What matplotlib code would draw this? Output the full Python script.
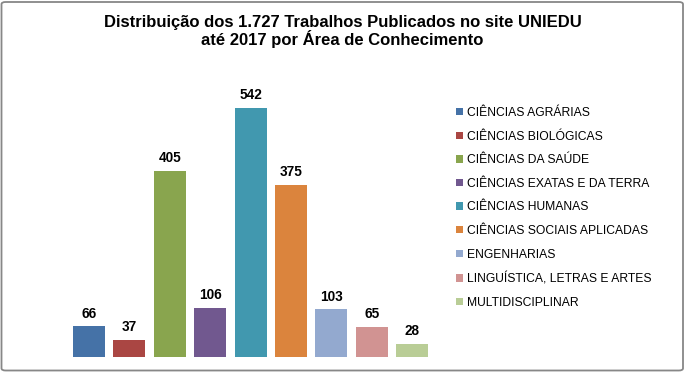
import matplotlib
matplotlib.use("Agg")
import matplotlib.pyplot as plt
from matplotlib.patches import Patch, FancyBboxPatch

categories = ["CIÊNCIAS AGRÁRIAS", "CIÊNCIAS BIOLÓGICAS", "CIÊNCIAS DA SAÚDE",
              "CIÊNCIAS EXATAS E DA TERRA", "CIÊNCIAS HUMANAS",
              "CIÊNCIAS SOCIAIS APLICADAS", "ENGENHARIAS",
              "LINGUÍSTICA, LETRAS E ARTES", "MULTIDISCIPLINAR"]
values = [66, 37, 405, 106, 542, 375, 103, 65, 28]
colors = ["#4572A7", "#AA4643", "#89A54E", "#71588F", "#4198AF",
          "#DB843D", "#93A9CF", "#D19392", "#B9CD96"]
title_lines = ["Distribuição dos 1.727 Trabalhos Publicados no site UNIEDU",
               "até 2017 por Área de Conhecimento"]

plt.rcParams["font.family"] = ["Liberation Sans", "DejaVu Sans"]

W, H = 685, 372
fig = plt.figure(figsize=(W / 100, H / 100), dpi=100)
fig.patch.set_facecolor("white")

# outer border
border = FancyBboxPatch((1.5 / W, 1.5 / H), (W - 3.5) / W, (H - 3.5) / H,
                        boxstyle="round,pad=0,rounding_size=0.006",
                        transform=fig.transFigure, fill=False,
                        edgecolor="#878787", linewidth=1.3)
fig.patches.append(border)

left_px, right_px = 68.8, 432.4
base_px, top_px = 356.7, 81.3
ax = fig.add_axes([left_px / W, (H - base_px) / H, (right_px - left_px) / W,
                   (base_px - top_px) / H])
x = list(range(len(values)))
ax.bar(x, values, width=0.79, color=colors)
ax.set_xlim(-0.5, len(values) - 0.5)
ax.set_ylim(0, 600)
ax.axis("off")
for xi, v in zip(x, values):
    ax.annotate(str(v), (xi, v), xytext=(0, 6.3), textcoords="offset points",
                ha="center", va="baseline", fontsize=9.8, fontweight="bold",
                color="black")

fig.text(342.5 / W, 1 - 27.3 / H, title_lines[0], ha="center", va="baseline",
         fontsize=12, fontweight="bold")
fig.text(342.5 / W, 1 - 44.5 / H, title_lines[1], ha="center", va="baseline",
         fontsize=12, fontweight="bold")

handles = [Patch(facecolor=c, edgecolor="none") for c in colors]
fig.legend(handles, categories, loc="upper left",
           bbox_to_anchor=(456 / W, 1 - 107 / H), frameon=False,
           fontsize=8.7, handlelength=0.58, handleheight=0.58,
           handletextpad=0.3, labelspacing=0.96, borderpad=0, borderaxespad=0)

fig.savefig("out.png", dpi=100)
